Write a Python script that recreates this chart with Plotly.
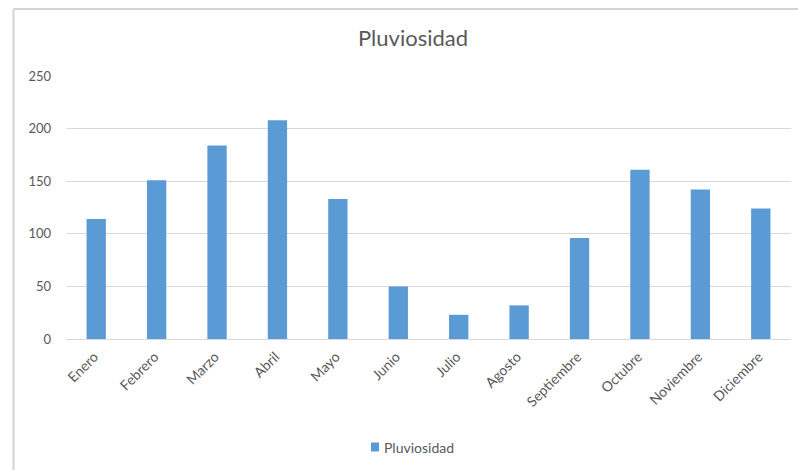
import plotly.graph_objects as go

# Monthly rainfall (mm)
meses = ["Enero", "Febrero", "Marzo", "Abril", "Mayo", "Junio", "Julio",
         "Agosto", "Septiembre", "Octubre", "Noviembre", "Diciembre"]
pluviosidad = [114, 151, 184, 208, 133, 50, 23, 32, 96, 161, 142, 124]
y_ticks = [0, 50, 100, 150, 200, 250]
serie = "Pluviosidad"

W, H = 798, 470
L, R, T, B = 66, 7, 76, 131
PW, PH = W - L - R, H - T - B

BAR = "#5B9BD5"
TXT = "#595959"
GRID = "#D9D9D9"
FONT = "Lato, 'Open Sans', sans-serif"


def px(x):
    """Pixel x -> paper x."""
    return (x - L) / PW


def py(y):
    """Pixel y (from top) -> paper y."""
    return (H - B - y) / PH


fig = go.Figure(
    go.Bar(
        x=meses,
        y=pluviosidad,
        name=serie,
        marker=dict(color=BAR, line=dict(width=0)),
        showlegend=False,
    )
)

fig.update_layout(
    width=W,
    height=H,
    margin=dict(l=L, r=R, t=T, b=B),
    paper_bgcolor="white",
    plot_bgcolor="white",
    bargap=0.68,
    font=dict(family=FONT, color=TXT, size=13),
    title=dict(
        text="Pluviosidad",
        x=px(413), xref="paper", xanchor="center",
        y=1 - 38 / H, yref="container", yanchor="middle",
        font=dict(family=FONT, size=22, color=TXT),
    ),
    xaxis=dict(
        tickangle=-45,
        showgrid=False,
        showline=False,
        ticks="",
        ticklabelshift=-2,
        ticklabelstandoff=6,
        tickfont=dict(size=14, color=TXT),
    ),
    yaxis=dict(
        range=[0, 250],
        tickvals=y_ticks,
        showgrid=True,
        gridcolor=GRID,
        gridwidth=1,
        zeroline=True,
        zerolinecolor=GRID,
        zerolinewidth=1,
        showline=False,
        ticks="",
        ticklabelstandoff=14,
        tickfont=dict(size=13, color=TXT),
    ),
)

# chart-area frame (top and left edges)
frame_x, frame_y = px(13.5), py(9)
fig.add_shape(type="line", xref="paper", yref="paper",
              x0=frame_x, y0=frame_y, x1=px(W + 5), y1=frame_y,
              line=dict(color="#D4D4D4", width=2))
fig.add_shape(type="line", xref="paper", yref="paper",
              x0=frame_x, y0=frame_y, x1=frame_x, y1=py(H + 5),
              line=dict(color="#D4D4D4", width=2))

# legend key
fig.add_shape(type="rect", xref="paper", yref="paper",
              x0=px(371), x1=px(379), y0=py(451.5), y1=py(442.5),
              fillcolor=BAR, line=dict(width=0))
fig.add_annotation(text=serie, xref="paper", yref="paper",
                   x=px(382), y=py(447), xanchor="left", yanchor="middle",
                   showarrow=False, font=dict(family=FONT, size=14, color=TXT))

fig.write_html("out.html")
